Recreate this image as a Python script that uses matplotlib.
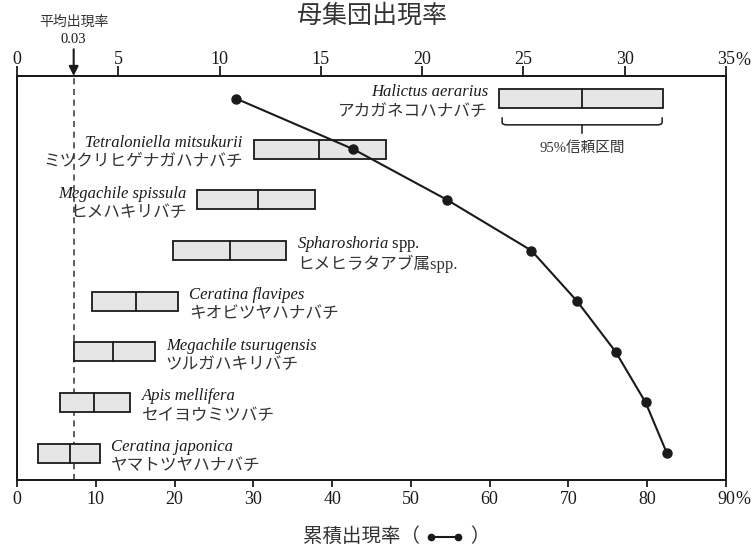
import numpy as np
import matplotlib.pyplot as plt
from matplotlib.path import Path
from matplotlib.patches import PathPatch, Rectangle
from matplotlib.lines import Line2D
from matplotlib.offsetbox import TextArea, DrawingArea, HPacker, AnchoredOffsetbox

plt.rcParams['font.family'] = ['Liberation Serif', 'Noto Sans CJK JP']
plt.rcParams['mathtext.fontset'] = 'custom'
plt.rcParams['mathtext.it'] = 'Liberation Serif:italic'
plt.rcParams['mathtext.rm'] = 'Liberation Serif'

# species, ordered by population occurrence rate
species = ['Halictus aerarius', 'Tetraloniella mitsukurii', 'Megachile spissula',
           r'$\mathit{Spharoshoria}$ spp.', 'Ceratina flavipes', 'Megachile tsurugensis',
           'Apis mellifera', 'Ceratina japonica']
species_jp = ['アカガネコハナバチ', 'ミツクリヒゲナガハナバチ', 'ヒメハキリバチ', 'ヒメヒラタアブ属spp.',
              'キオビツヤハナバチ', 'ツルガハキリバチ', 'セイヨウミツバチ', 'ヤマトツヤハナバチ']
# population occurrence rate (%), median and 95% CI
rate_median = [27.9, 14.9, 11.9, 10.5, 5.9, 4.75, 3.8, 2.6]
ci_low = [23.8, 11.7, 8.9, 7.7, 3.7, 2.8, 2.1, 1.05]
ci_high = [31.9, 18.2, 14.7, 13.3, 7.95, 6.8, 5.6, 4.1]
# cumulative occurrence rate (%)
cumulative = [27.8, 42.7, 54.6, 65.3, 71.1, 76.0, 79.8, 82.5]
label_side = ['left', 'left', 'left', 'right', 'right', 'right', 'right', 'right']
mean_rate = 0.028

top_ticks = [0, 5, 10, 15, 20, 25, 30, 35]
bottom_ticks = [0, 10, 20, 30, 40, 50, 60, 70, 80, 90]

ink = '#1a1a1a'
fig = plt.figure(figsize=(7.54, 5.53), dpi=100)
ax = fig.add_axes([0.0225, 0.132, 0.9403, 0.7306])
ax2 = ax.twiny()
rows = np.arange(len(species))
box_h = 0.375

# boxes: 95% CI with median line
for r, lo, hi, med in zip(rows, ci_low, ci_high, rate_median):
    ax.add_patch(Rectangle((lo, r - box_h / 2), hi - lo, box_h, facecolor='#e6e6e6',
                           edgecolor=ink, linewidth=1.3, zorder=2))
    ax.plot([med, med], [r - box_h / 2, r + box_h / 2], color=ink, linewidth=1.3, zorder=3)

# species labels
for r, lo, hi, name, jp, side in zip(rows, ci_low, ci_high, species, species_jp, label_side):
    if side == 'left':
        x, dx, ha = lo, -8, 'right'
    else:
        x, dx, ha = hi, 8, 'left'
    style = 'normal' if name.startswith('$') else 'italic'
    ax.annotate(name, xy=(x, r - 0.12), xytext=(dx, 0), textcoords='offset points',
                ha=ha, va='center', fontsize=12, fontstyle=style, color=ink)
    ax.annotate(jp, xy=(x, r + 0.26), xytext=(dx, 0), textcoords='offset points',
                ha=ha, va='center', fontsize=12, color='#333333')

# bracket for the 95% confidence interval
b_lo, b_hi, b_mid = ci_low[0] + 0.15, ci_high[0] - 0.05, rate_median[0]
verts = [(b_lo, 0.37), (b_lo, 0.47), (b_lo, 0.52), (b_lo + 0.25, 0.52),
         (b_hi - 0.25, 0.52), (b_hi, 0.52), (b_hi, 0.47), (b_hi, 0.37)]
codes = [Path.MOVETO, Path.LINETO, Path.CURVE3, Path.CURVE3,
         Path.LINETO, Path.CURVE3, Path.CURVE3, Path.LINETO]
ax.add_patch(PathPatch(Path(verts, codes), fill=False, edgecolor=ink, linewidth=1.1))
ax.plot([b_mid, b_mid], [0.52, 0.68], color=ink, linewidth=1.1)
ax.text(b_mid, 0.98, '95%信頼区間', ha='center', va='center', fontsize=10.5, color='#333333')

# mean occurrence rate
ax.axvline(mean_rate * 100, color='#333333', linewidth=1.1, linestyle=(0, (4, 3)), zorder=1)
ax.annotate('', xy=(mean_rate * 100, 1.0), xycoords=ax.get_xaxis_transform(),
            xytext=(mean_rate * 100, 1.066),
            arrowprops=dict(arrowstyle='-|>', color=ink, lw=1.5, mutation_scale=14,
                            shrinkA=0, shrinkB=0))
ax.text(mean_rate * 100, 1.09, f'{mean_rate:.2f}', transform=ax.get_xaxis_transform(),
        ha='center', va='center', fontsize=10.5, color=ink)
ax.text(mean_rate * 100, 1.133, '平均出現率', transform=ax.get_xaxis_transform(),
        ha='center', va='center', fontsize=10, color='#333333')

ax.set_xlim(0, 35)
ax.set_ylim(7.53, -0.445)
ax.set_yticks([])

# cumulative occurrence rate on the bottom axis
ax2.plot(cumulative, rows, color=ink, linewidth=1.5, marker='o', markersize=6.5, zorder=5)
ax2.set_xlim(0, 90)
ax2.xaxis.tick_bottom()
ax2.set_xticks(bottom_ticks)
ax2.set_xticklabels([str(t) for t in bottom_ticks])
ax2.tick_params(axis='x', direction='out', length=5, width=1.3, pad=3,
                labelsize=13, colors=ink)
ax2.annotate('%', xy=(90, 0), xycoords=ax2.get_xaxis_transform(), xytext=(6.5, -8.0),
             textcoords='offset points', ha='left', va='top', fontsize=13, color=ink)

# population occurrence rate on the top axis
ax.xaxis.tick_top()
ax.set_xticks(top_ticks)
ax.set_xticklabels([str(t) for t in top_ticks])
ax.tick_params(axis='x', direction='out', length=7, width=1.3, pad=-1.5,
               labelsize=13, colors=ink)
ax.annotate('%', xy=(35, 1), xycoords=ax.get_xaxis_transform(), xytext=(6.5, 5.0),
            textcoords='offset points', ha='left', va='bottom', fontsize=13, color=ink)

for a in (ax, ax2):
    for s in a.spines.values():
        s.set_linewidth(1.4)
        s.set_color(ink)

fig.text(0.493, 0.972, '母集団出現率', ha='center', va='center', fontsize=18, color='#333333')

# x label with line-and-dot key
key = DrawingArea(30, 10, 0, 0)
key.add_artist(Line2D([5, 24], [5, 5], color=ink, linewidth=1.5, marker='o', markersize=4.5))
label = HPacker(children=[TextArea('累積出現率（ ', textprops=dict(fontsize=14, color='#333333')),
                          key,
                          TextArea(' ）', textprops=dict(fontsize=14, color='#333333'))],
                align='center', pad=0, sep=0)
fig.add_artist(AnchoredOffsetbox(loc='center', child=label, frameon=False, pad=0, borderpad=0,
                                 bbox_to_anchor=(0.526, 0.029), bbox_transform=fig.transFigure))

fig.savefig('out.png', dpi=100)
